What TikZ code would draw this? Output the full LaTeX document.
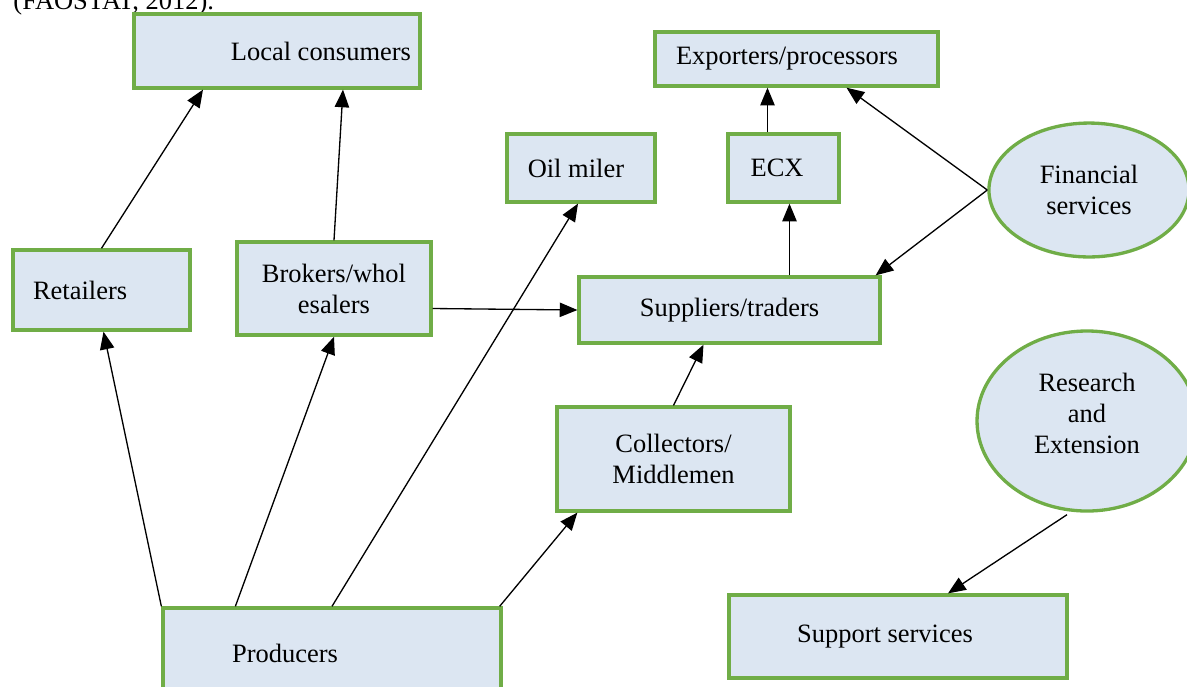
\documentclass[tikz,border=0pt]{standalone}
\usepackage{fontspec}
\setmainfont{Liberation Serif}
\usetikzlibrary{arrows.meta,calc,shapes.geometric}
\definecolor{boxgreen}{RGB}{112,173,71}
\definecolor{boxfill}{RGB}{220,230,242}
\begin{document}
\begin{tikzpicture}[x=.4533pt,y=-.4533pt,
  txt/.style={font=\fontsize{12}{14}\selectfont,align=center,inner sep=0pt},
  box/.style={txt,draw=boxgreen,fill=boxfill,line width=1.5pt},
  oval/.style={box,ellipse},
  link/.style={line width=.6pt,-{Triangle[length=8pt,width=6.5pt]}}]
\path[use as bounding box,clip] (0,0) rectangle (1187,686);
\node[txt,anchor=base west] (src) at (13,9.5) {(FAOSTAT, 2012).};
\node[box,minimum width=129.6pt,minimum height=33.5pt,label={[txt,name=consl,xshift=19.9pt]center:Local consumers}] (cons) at (277,51) {};
\node[box,minimum width=128.3pt,minimum height=24.5pt,label={[txt,name=expol,xshift=-4.3pt]center:Exporters/processors}] (expo) at (796.5,59) {};
\node[box,minimum width=67.1pt,minimum height=30.8pt,label={[txt,name=oill,xshift=-2.3pt]center:Oil miler}] (oil) at (581,168) {};
\node[box,minimum width=50.3pt,minimum height=30.8pt,label={[txt,name=ecxl,xshift=-2.9pt]center:ECX}] (ecx) at (783.5,168) {};
\node[oval,minimum width=90.7pt,minimum height=60.7pt] (fin) at (1089,190) {Financial\\services};
\node[box,minimum width=80.2pt,minimum height=36.3pt,label={[txt,name=retl,xshift=-9.7pt]center:Retailers}] (ret) at (101.5,290) {};
\node[box,minimum width=87.9pt,minimum height=42.2pt] (brok) at (334,288.5) {Brokers/whol\\esalers};
\node[box,minimum width=136.4pt,minimum height=29.9pt] (sup) at (729.5,310) {Suppliers/traders};
\node[oval,minimum width=99.7pt,minimum height=81.6pt,label={[txt,name=resl,yshift=3.6pt]center:Research\\and\\Extension}] (res) at (1087,421) {};
\node[box,minimum width=105.6pt,minimum height=47.1pt] (col) at (673.5,459) {Collectors/\\Middlemen};
\node[box,minimum width=153.2pt,minimum height=40.8pt,label={[txt,name=prodl,xshift=-21.3pt]center:Producers}] (prod) at (332,653) {};
\node[box,minimum width=153.2pt,minimum height=37.6pt,label={[txt,name=suppl,xshift=-5.9pt]center:Support services}] (supp) at (898,636.5) {};
\draw[link] (ret.north) -- ($(cons.south)+(-74,0)$);
\draw[link] (brok.north) -- ($(cons.south)+(66,0)$);
\draw[link] (prod.north west) -- ($(ret.south)+(2,0)$);
\draw[link] ($(prod.north west)+(74,0)$) -- (brok.south);
\draw[link] (prod.north) -- ($(oil.south)+(-3,0)$);
\draw[link] ($(prod.north east)+(-3,0)$) -- ($(col.south west)+(22,0)$);
\draw[link] ($(brok.east)+(0,20)$) -- (sup.west);
\draw[link] (col.north) -- ($(sup.south)+(-26,0)$);
\draw[link] ($(sup.north)+(60,0)$) -- ($(ecx.south)+(6,0)$);
\draw[link] ($(ecx.north)+(-16,0)$) -- ($(expo.south)+(-29,0)$);
\draw[link] (fin.west) -- ($(expo.south)+(50,0)$);
\draw[link] (fin.west) -- ($(sup.north east)+(-6,0)$);
\draw[link] ($(res.south)+(-20,2)$) -- ($(supp.north)+(50,0)$);
\end{tikzpicture}
\end{document}
